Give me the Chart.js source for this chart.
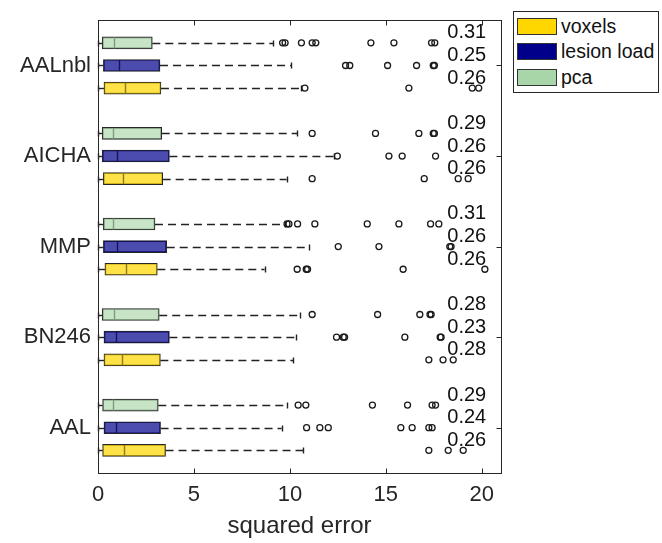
<!DOCTYPE html>
<html><head><meta charset="utf-8">
<script src="https://cdn.jsdelivr.net/npm/chart.js@4.4.1/dist/chart.umd.min.js"></script>
<style>
html,body{margin:0;padding:0;background:#fff;}
#wrap{position:relative;width:662px;height:543px;}
#legend{position:absolute;left:513px;top:11px;width:144px;height:80px;border:1px solid #262626;background:#fff;font-family:"Liberation Sans",Arial,sans-serif;font-size:19.5px;color:#111;}
.item{position:absolute;left:3px;height:18px;display:flex;align-items:center;white-space:nowrap;}
.sw{width:38px;height:15px;border:1px solid #333;margin-right:4px;flex:none;}
</style></head>
<body><div id="wrap"><canvas id="c" width="662" height="543"></canvas><div id="legend"></div></div>
<script>
// ---- data (groups listed bottom to top) ----
const categories = ['AAL','BN246','MMP','AICHA','AALnbl'];
const seriesNames = ['voxels','lesion load','pca'];
const xTickValues = [0,5,10,15,20];

const voxelsLow    = [0, 0, 0, 0, 0];
const voxelsQ1     = [0.24, 0.31, 0.36, 0.28, 0.31];
const voxelsMedian = [1.35, 1.23, 1.44, 1.32, 1.41];
const voxelsQ3     = [3.52, 3.25, 3.09, 3.37, 3.28];
const voxelsHigh   = [10.69, 10.17, 8.68, 9.83, 10.6];
const voxelsOutliers = [
  [17.24, 18.25, 19.03],
  [17.24, 17.98, 18.51],
  [10.38, 10.85, 10.92, 15.9, 20.16],
  [11.16, 17.0, 18.77, 19.29],
  [10.78, 16.2, 19.5, 19.84]
];
const voxelsScore = [0.26, 0.28, 0.26, 0.26, 0.26];

const lesionLow    = [0, 0, 0, 0, 0];
const lesionQ1     = [0.31, 0.31, 0.28, 0.22, 0.28];
const lesionMedian = [0.94, 0.94, 1.0, 1.0, 1.09];
const lesionQ3     = [3.26, 3.72, 3.58, 3.72, 3.23];
const lesionHigh   = [9.57, 10.3, 11.0, 12.3, 10.05];
const lesionOutliers = [
  [10.87, 11.56, 12.0, 15.78, 16.37, 17.24, 17.41],
  [12.43, 12.78, 12.85, 15.99, 17.83, 17.88],
  [12.52, 14.64, 18.33, 18.4],
  [12.47, 15.16, 15.85, 17.59],
  [12.9, 13.12, 15.09, 16.6, 17.47, 17.53]
];
const lesionScore = [0.24, 0.23, 0.26, 0.26, 0.25];

const pcaLow    = [0, 0, 0, 0, 0];
const pcaQ1     = [0.24, 0.22, 0.28, 0.22, 0.22];
const pcaMedian = [0.8, 0.85, 0.8, 0.8, 0.85];
const pcaQ3     = [3.14, 3.19, 2.97, 3.32, 2.83];
const pcaHigh   = [9.83, 10.55, 9.75, 10.38, 9.13];
const pcaOutliers = [
  [10.43, 10.83, 14.3, 16.13, 17.41, 17.59],
  [11.16, 14.57, 16.77, 17.3, 17.36],
  [9.85, 9.95, 10.4, 11.3, 14.03, 15.68, 17.33, 17.76],
  [11.16, 14.46, 16.72, 17.47, 17.53],
  [9.62, 9.75, 10.6, 11.16, 11.35, 14.22, 15.42, 17.38, 17.55]
];
const pcaScore = [0.29, 0.28, 0.31, 0.29, 0.31];

// ---- styles ----
const FONT = '"Liberation Sans", Arial, Helvetica, sans-serif';
const TEXT = '#262626';
const series = [
  {name: seriesNames[0], low: voxelsLow, q1: voxelsQ1, med: voxelsMedian, q3: voxelsQ3, high: voxelsHigh, out: voxelsOutliers, score: voxelsScore,
   legend: '#FFD700', fill: 'rgba(255,215,0,0.72)', medColor: '#8c7b22'},
  {name: seriesNames[1], low: lesionLow, q1: lesionQ1, med: lesionMedian, q3: lesionQ3, high: lesionHigh, out: lesionOutliers, score: lesionScore,
   legend: '#00008B', fill: 'rgba(0,0,139,0.70)', medColor: '#14145e'},
  {name: seriesNames[2], low: pcaLow, q1: pcaQ1, med: pcaMedian, q3: pcaQ3, high: pcaHigh, out: pcaOutliers, score: pcaScore,
   legend: '#A9D6A9', fill: 'rgba(169,214,169,0.65)', medColor: '#7d9c7d'}
];
const rowPos = (g, s) => g * 4 + s + 1;
const groupTickPos = categories.map((c, g) => g * 4 + 2);

// ---- datasets ----
const datasets = [];
series.forEach((s, si) => {
  datasets.push({
    type: 'bar', label: s.name,
    data: categories.map((c, g) => ({y: rowPos(g, si), x: [s.q1[g], s.q3[g]]})),
    backgroundColor: s.fill, borderColor: '#262626', borderWidth: 1,
    borderSkipped: false, barThickness: 12, grouped: false, order: 2
  });
});
series.forEach((s, si) => {
  const pts = [];
  categories.forEach((c, g) => s.out[g].forEach(v => pts.push({x: v, y: rowPos(g, si)})));
  datasets.push({
    type: 'scatter', label: s.name + ' outliers', data: pts,
    pointStyle: 'circle', pointRadius: 3, pointBorderWidth: 1.3,
    pointBorderColor: '#1a1a1a', pointBackgroundColor: 'rgba(0,0,0,0)', order: 1
  });
});

// ---- plugins (drawn through chart scales) ----
const whiskerPlugin = {
  id: 'whiskers',
  beforeDatasetsDraw(chart) {
    const {ctx, scales: {x, y}} = chart;
    ctx.save();
    ctx.strokeStyle = '#222'; ctx.lineWidth = 1.4;
    series.forEach((s, si) => categories.forEach((c, g) => {
      const yp = Math.round(y.getPixelForValue(rowPos(g, si))) + 0.5;
      const seg = (a, b) => { ctx.beginPath(); ctx.moveTo(a, yp); ctx.lineTo(b, yp); ctx.stroke(); };
      ctx.setLineDash([8, 5]);
      seg(x.getPixelForValue(s.q3[g]), x.getPixelForValue(s.high[g]));
      seg(x.getPixelForValue(s.low[g]), x.getPixelForValue(s.q1[g]));
      ctx.setLineDash([]);
      [s.high[g], s.low[g]].forEach(v => {
        const xp = Math.round(x.getPixelForValue(v)) + 0.5;
        ctx.beginPath(); ctx.moveTo(xp, yp - 3); ctx.lineTo(xp, yp + 3); ctx.stroke();
      });
    }));
    ctx.restore();
  },
  afterDatasetsDraw(chart) {
    const {ctx, scales: {x, y}} = chart;
    ctx.save();
    ctx.lineWidth = 1.4;
    series.forEach((s, si) => categories.forEach((c, g) => {
      const yp = y.getPixelForValue(rowPos(g, si));
      const xp = Math.round(x.getPixelForValue(s.med[g])) + 0.5;
      ctx.strokeStyle = s.medColor;
      ctx.beginPath(); ctx.moveTo(xp, yp - 5.5); ctx.lineTo(xp, yp + 5.5); ctx.stroke();
    }));
    // score labels
    ctx.fillStyle = '#111';
    ctx.font = '20px ' + FONT;
    ctx.textAlign = 'left'; ctx.textBaseline = 'middle';
    series.forEach((s, si) => categories.forEach((c, g) => {
      const yp = y.getPixelForValue(rowPos(g, si)) - 10;
      ctx.fillText(s.score[g].toFixed(2), x.getPixelForValue(18.2), yp);
    }));
    ctx.restore();
  },
  afterDraw(chart) {
    const {ctx, chartArea: a, scales: {x, y}} = chart;
    ctx.save();
    ctx.strokeStyle = TEXT; ctx.lineWidth = 1;
    const L = Math.round(a.left) + 0.5, R = Math.round(a.right) + 0.5, T = Math.round(a.top) + 0.5, B = Math.round(a.bottom) + 0.5;
    ctx.strokeRect(L, T, R - L, B - T);
    ctx.beginPath();
    xTickValues.forEach(v => {
      const xp = Math.round(x.getPixelForValue(v)) + 0.5;
      ctx.moveTo(xp, B); ctx.lineTo(xp, B - 5);
      ctx.moveTo(xp, T); ctx.lineTo(xp, T + 5);
    });
    groupTickPos.forEach(v => {
      const yp = Math.round(y.getPixelForValue(v)) + 0.5;
      ctx.moveTo(L, yp); ctx.lineTo(L + 5, yp);
      ctx.moveTo(R, yp); ctx.lineTo(R - 5, yp);
    });
    ctx.stroke();
    ctx.restore();
  }
};

new Chart(document.getElementById('c'), {
  type: 'bar',
  data: {datasets},
  options: {
    indexAxis: 'y',
    responsive: false, animation: false,
    layout: {padding: {top: 11, right: 161, left: 0, bottom: 0}},
    plugins: {legend: {display: false}, tooltip: {enabled: false}},
    scales: {
      x: {
        type: 'linear', position: 'bottom', min: 0, max: 21, offset: false,
        afterBuildTicks: sc => { sc.ticks = xTickValues.map(v => ({value: v})); },
        afterFit: sc => { sc.height = 70; },
        grid: {display: true, drawOnChartArea: false, drawTicks: false, offset: false},
        border: {display: false},
        ticks: {color: TEXT, font: {family: FONT, size: 22}, padding: 9, maxRotation: 0},
        title: {display: true, text: 'squared error', color: TEXT, font: {family: FONT, size: 24}, padding: {top: 0, bottom: 2}}
      },
      y: {
        type: 'linear', position: 'left', min: 0, max: 20, offset: false,
        afterBuildTicks: sc => { sc.ticks = groupTickPos.map(v => ({value: v})); },
        afterFit: sc => { sc.width = 98; },
        grid: {display: true, drawOnChartArea: false, drawTicks: false, offset: false},
        border: {display: false},
        ticks: {color: TEXT, font: {family: FONT, size: 22}, padding: 7,
          callback: v => { const i = groupTickPos.indexOf(v); return i >= 0 ? categories[i] : ''; }}
      }
    }
  },
  plugins: [whiskerPlugin]
});

// HTML legend built from series
const lg = document.getElementById('legend');
series.forEach((s, i) => {
  const it = document.createElement('div');
  it.className = 'item';
  it.style.top = (5 + i * 25.5) + 'px';
  const sw = document.createElement('div');
  sw.className = 'sw'; sw.style.background = s.legend;
  it.appendChild(sw);
  it.appendChild(document.createTextNode(s.name));
  lg.appendChild(it);
});
</script>
</body></html>
